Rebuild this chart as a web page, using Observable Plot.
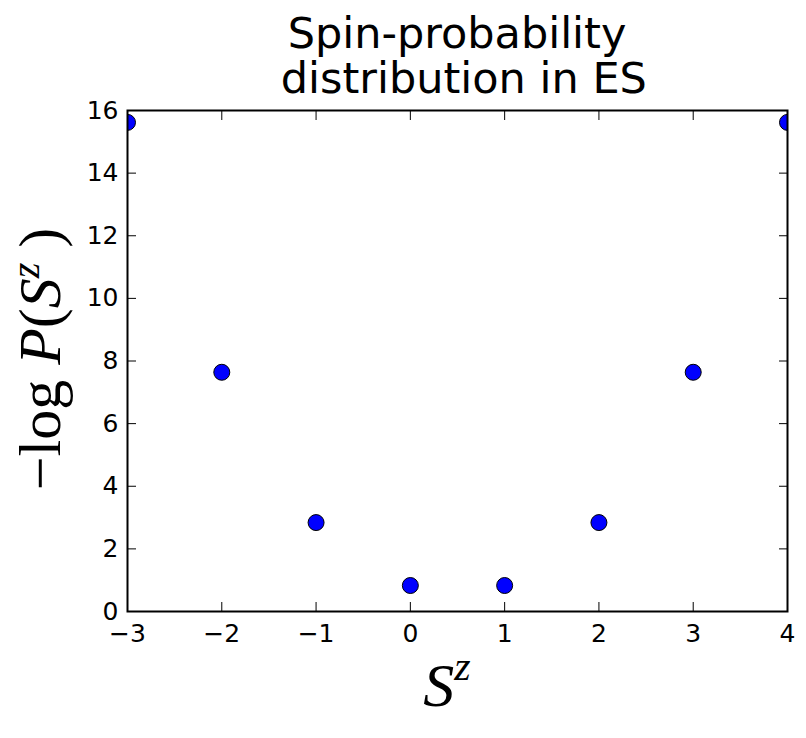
<!DOCTYPE html>
<html>
<head>
<meta charset="utf-8">
<script src="https://cdn.jsdelivr.net/npm/d3@7"></script>
<script src="https://cdn.jsdelivr.net/npm/@observablehq/plot@0.6"></script>
<style>
  html, body { margin: 0; padding: 0; background: #fff; }
  #wrap { position: relative; width: 806px; height: 738px; overflow: hidden; background: #fff; }
  #title { position: absolute; left: 127px; top: 0; width: 660px; height: 100px;
           font-family: "DejaVu Sans", sans-serif; font-size: 43px; line-height: 45px;
           text-align: center; color: #000; padding-top: 11px; box-sizing: border-box; white-space: pre; }
  #chart { position: absolute; left: 0; top: 100px; }
</style>
</head>
<body>
<div id="wrap">
  <div id="title"><div>Spin-probability</div><div> distribution in ES</div></div>
  <div id="chart"></div>
</div>
<script>
// Data
const sz = [-3, -2, -1, 0, 1, 2, 3, 4];
const negLogP = [15.62, 7.64, 2.84, 0.83, 0.83, 2.84, 7.64, 15.62];
const xTicks = [-3, -2, -1, 0, 1, 2, 3, 4];
const yTicks = [0, 2, 4, 6, 8, 10, 12, 14, 16];

const data = sz.map((s, i) => ({s, v: negLogP[i]}));
const blank = () => "";

const chart = Plot.plot({
  width: 806,
  height: 638,
  marginTop: 10,
  marginBottom: 127,
  marginLeft: 127,
  marginRight: 19,
  style: {fontFamily: "DejaVu Sans, sans-serif", fontSize: "25px", color: "black", background: "white", overflow: "visible"},
  x: {domain: [-3, 4]},
  y: {domain: [0, 16]},
  marks: [
    Plot.dot(data, {x: "s", y: "v", r: 8, fill: "blue", stroke: "black", strokeWidth: 1, clip: true}),
    // tick labels
    Plot.axisX(xTicks, {anchor: "bottom", tickSize: 0, tickPadding: 13, label: null, fontSize: 25}),
    Plot.axisY(yTicks, {anchor: "left", tickSize: 0, tickPadding: 9, label: null, fontSize: 25}),
    // inward ticks on all four sides
    Plot.axisX(xTicks, {anchor: "bottom", tickSize: 9, dy: -9, tickFormat: blank, label: null, strokeWidth: 1}),
    Plot.axisX(xTicks, {anchor: "top", tickSize: 9, dy: 9, tickFormat: blank, label: null, strokeWidth: 1}),
    Plot.axisY(yTicks, {anchor: "left", tickSize: 9, dx: 9, tickFormat: blank, label: null, strokeWidth: 1}),
    Plot.axisY(yTicks, {anchor: "right", tickSize: 9, dx: -9, tickFormat: blank, label: null, strokeWidth: 1}),
    Plot.frame({stroke: "black", strokeWidth: 2})
  ]
});

document.getElementById("chart").appendChild(chart);

// Axis labels with math-style italics and superscripts
const svg = d3.select(chart);
const serif = "Liberation Serif, DejaVu Serif, serif";

const xl = svg.append("text")
  .attr("x", 447).attr("y", 606)
  .attr("text-anchor", "middle")
  .attr("font-family", serif)
  .attr("font-size", 62)
  .attr("fill", "black");
xl.append("tspan").attr("font-style", "italic").text("S");
xl.append("tspan").attr("font-style", "italic").attr("font-size", 42).attr("dy", -26).text("z");

const yl = svg.append("text")
  .attr("transform", "translate(60,259) rotate(-90)")
  .attr("text-anchor", "middle")
  .attr("font-family", serif)
  .attr("font-size", 60)
  .attr("fill", "black")
  .attr("xml:space", "preserve")
  .style("white-space", "pre");
yl.append("tspan").text("\u2212log ");
yl.append("tspan").attr("font-style", "italic").text("P");
yl.append("tspan").text("(");
yl.append("tspan").attr("font-style", "italic").text("S");
yl.append("tspan").attr("font-style", "italic").attr("font-size", 40).attr("dy", -21).text("z");
yl.append("tspan").attr("dy", 21).text(" )");
</script>
</body>
</html>
